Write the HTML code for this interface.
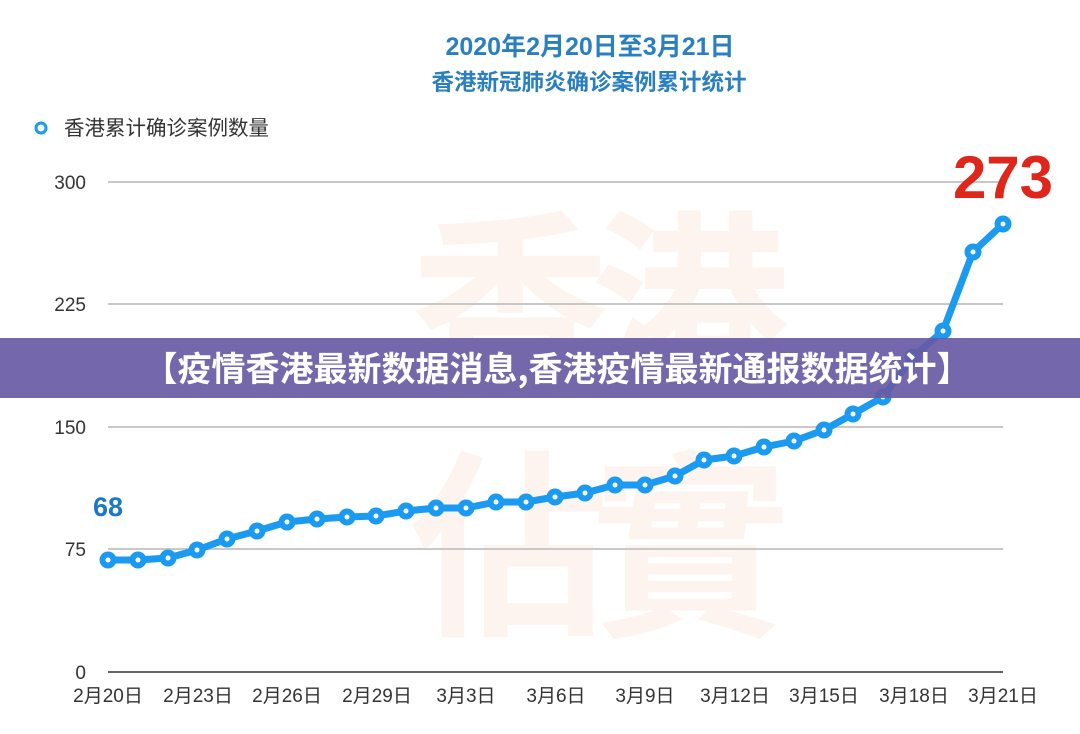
<!DOCTYPE html>
<html><head><meta charset="utf-8"><style>
body{margin:0;width:1080px;height:734px;background:#fff;overflow:hidden;font-family:"Liberation Sans","Noto Sans CJK SC",sans-serif;}
</style></head><body>
<svg width="1080" height="734" viewBox="0 0 1080 734" xmlns="http://www.w3.org/2000/svg" style="position:absolute;left:0;top:0">
<g font-family="Noto Sans CJK SC,sans-serif" font-weight="bold" fill="#fbe5da" font-size="200" opacity="0.4">
<text x="410" y="380">香</text><text x="590" y="380">港</text>
<text x="410" y="620">佔</text><text x="590" y="620">實</text>
</g>
<text x="590" y="55" text-anchor="middle" font-family="Liberation Sans,Noto Sans CJK SC,sans-serif" font-weight="bold" font-size="25" fill="#2a7fc0">2020年2月20日至3月21日</text>
<text x="589" y="90" text-anchor="middle" font-family="Noto Sans CJK SC,sans-serif" font-weight="bold" font-size="22.5" fill="#2a7fc0">香港新冠肺炎确诊案例累计统计</text>
<circle cx="41" cy="128" r="5" fill="none" stroke="#1a9af0" stroke-width="3"/>
<text x="64" y="135" font-family="Noto Sans CJK SC,sans-serif" font-size="20.5" fill="#333">香港累计确诊案例数量</text>
<g stroke="#c8c8c8" stroke-width="2">
<line x1="108" y1="182" x2="1003" y2="182"/><line x1="108" y1="304" x2="1003" y2="304"/>
<line x1="108" y1="427" x2="1003" y2="427"/><line x1="108" y1="549" x2="1003" y2="549"/>
</g>
<line x1="108" y1="672" x2="1003" y2="672" stroke="#666" stroke-width="2"/>
<g font-size="19" fill="#333" text-anchor="end" font-family="Liberation Sans,sans-serif">
<text x="86" y="189">300</text><text x="86" y="311">225</text><text x="86" y="434">150</text><text x="86" y="556">75</text><text x="86" y="679">0</text>
</g>
<g font-size="19" fill="#333" text-anchor="middle" font-family="Liberation Sans,Noto Sans CJK SC,sans-serif">
<text x="108" y="702">2月20日</text><text x="198" y="702">2月23日</text><text x="287" y="702">2月26日</text><text x="377" y="702">2月29日</text><text x="466" y="702">3月3日</text><text x="556" y="702">3月6日</text><text x="645" y="702">3月9日</text><text x="735" y="702">3月12日</text><text x="824" y="702">3月15日</text><text x="914" y="702">3月18日</text><text x="1003" y="702">3月21日</text>
</g>
<text x="108" y="516" text-anchor="middle" font-family="Liberation Sans,sans-serif" font-weight="bold" font-size="27" fill="#1a78c8">68</text>
<text x="1003" y="198" text-anchor="middle" font-family="Liberation Sans,sans-serif" font-weight="bold" font-size="60" fill="#e0261a">273</text>
<polyline fill="none" stroke="#1a9af0" stroke-width="7" stroke-linejoin="round" points="108,560 138,560 168,558 197,550 227,539 257,531 287,522 317,519 347,517 376,516 406,511 436,508 466,508 496,502 526,502 555,497 585,493 615,485 645,485 675,476 704,460 734,456 764,447 794,441 824,430 853,414 883,397 913,357 943,331 973,252 1003,224"/>
<g fill="#1a9af0">
<circle cx="108" cy="560" r="8.5"/><circle cx="138" cy="560" r="8.5"/><circle cx="168" cy="558" r="8.5"/><circle cx="197" cy="550" r="8.5"/><circle cx="227" cy="539" r="8.5"/><circle cx="257" cy="531" r="8.5"/><circle cx="287" cy="522" r="8.5"/><circle cx="317" cy="519" r="8.5"/><circle cx="347" cy="517" r="8.5"/><circle cx="376" cy="516" r="8.5"/><circle cx="406" cy="511" r="8.5"/><circle cx="436" cy="508" r="8.5"/><circle cx="466" cy="508" r="8.5"/><circle cx="496" cy="502" r="8.5"/><circle cx="526" cy="502" r="8.5"/><circle cx="555" cy="497" r="8.5"/><circle cx="585" cy="493" r="8.5"/><circle cx="615" cy="485" r="8.5"/><circle cx="645" cy="485" r="8.5"/><circle cx="675" cy="476" r="8.5"/><circle cx="704" cy="460" r="8.5"/><circle cx="734" cy="456" r="8.5"/><circle cx="764" cy="447" r="8.5"/><circle cx="794" cy="441" r="8.5"/><circle cx="824" cy="430" r="8.5"/><circle cx="853" cy="414" r="8.5"/><circle cx="883" cy="397" r="8.5"/><circle cx="913" cy="357" r="8.5"/><circle cx="943" cy="331" r="8.5"/><circle cx="973" cy="252" r="8.5"/><circle cx="1003" cy="224" r="8.5"/>
</g>
<g fill="#fff">
<circle cx="108" cy="560" r="2.5"/><circle cx="138" cy="560" r="2.5"/><circle cx="168" cy="558" r="2.5"/><circle cx="197" cy="550" r="2.5"/><circle cx="227" cy="539" r="2.5"/><circle cx="257" cy="531" r="2.5"/><circle cx="287" cy="522" r="2.5"/><circle cx="317" cy="519" r="2.5"/><circle cx="347" cy="517" r="2.5"/><circle cx="376" cy="516" r="2.5"/><circle cx="406" cy="511" r="2.5"/><circle cx="436" cy="508" r="2.5"/><circle cx="466" cy="508" r="2.5"/><circle cx="496" cy="502" r="2.5"/><circle cx="526" cy="502" r="2.5"/><circle cx="555" cy="497" r="2.5"/><circle cx="585" cy="493" r="2.5"/><circle cx="615" cy="485" r="2.5"/><circle cx="645" cy="485" r="2.5"/><circle cx="675" cy="476" r="2.5"/><circle cx="704" cy="460" r="2.5"/><circle cx="734" cy="456" r="2.5"/><circle cx="764" cy="447" r="2.5"/><circle cx="794" cy="441" r="2.5"/><circle cx="824" cy="430" r="2.5"/><circle cx="853" cy="414" r="2.5"/><circle cx="883" cy="397" r="2.5"/><circle cx="913" cy="357" r="2.5"/><circle cx="943" cy="331" r="2.5"/><circle cx="973" cy="252" r="2.5"/><circle cx="1003" cy="224" r="2.5"/>
</g>
<rect x="0" y="338" width="1080" height="60" fill="rgb(104,90,164)" opacity="0.92"/>
<text x="557" y="381" text-anchor="middle" font-family="Noto Sans CJK SC,sans-serif" font-weight="bold" font-size="34" fill="#fff">【疫情香港最新数据消息,香港疫情最新通报数据统计】</text>
</svg>
</body></html>
